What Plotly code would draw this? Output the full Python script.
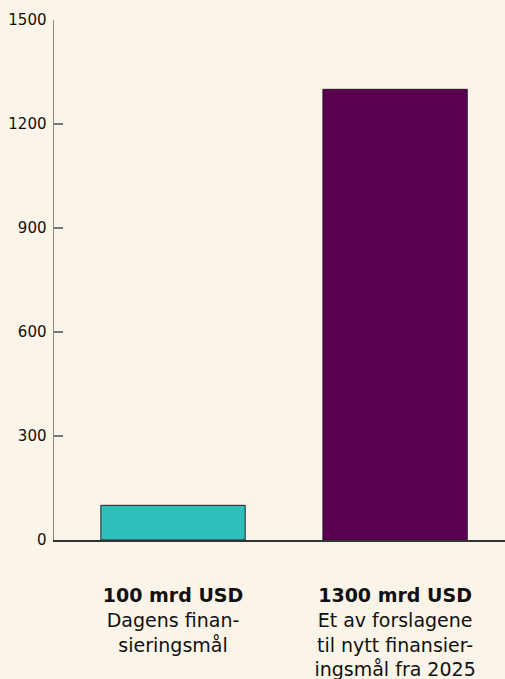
import plotly.graph_objects as go

categories = [0, 1]
values = [100, 1300]
bar_colors = ["#2ebfba", "#5a0050"]
tick_labels = [
    "<b>100 mrd USD</b><br>Dagens finan-<br>sieringsmål",
    "<b>1300 mrd USD</b><br>Et av forslagene<br>til nytt finansier-<br>ingsmål fra 2025",
]
y_ticks = [0, 300, 600, 900, 1200, 1500]

bg = "#fbf4e8"

fig = go.Figure()
fig.add_trace(go.Bar(
    x=categories, y=values, width=0.65,
    marker=dict(color=bar_colors, line=dict(color="#2a1a28", width=1)),
    showlegend=False, hoverinfo="skip",
))

fig.update_layout(
    width=505, height=679,
    margin=dict(l=54, r=0, t=20, b=139),
    paper_bgcolor=bg, plot_bgcolor=bg,
    font=dict(family="DejaVu Sans, sans-serif", color="#111"),
    xaxis=dict(
        range=[-0.536, 1.495], automargin=False,
        tickmode="array", tickvals=categories, ticktext=tick_labels,
        showgrid=False, zeroline=False,
        showline=True, linecolor="#333", linewidth=1.5,
        ticks="", tickfont=dict(size=19, color="#111"),
        ticklabelstandoff=38,
    ),
    yaxis=dict(
        range=[0, 1500], automargin=False,
        tickmode="array", tickvals=y_ticks,
        showgrid=False, zeroline=False,
        showline=True, linecolor="#888", linewidth=1.5,
        ticks="inside", ticklen=9, tickcolor="#777", tickwidth=1.5,
        tickfont=dict(size=15, color="#111"),
        ticklabelstandoff=3,
    ),
)

fig.write_html(
    "out.html",
    config={"displayModeBar": False, "staticPlot": True},
    post_script="document.body.style.margin='0';",
)
